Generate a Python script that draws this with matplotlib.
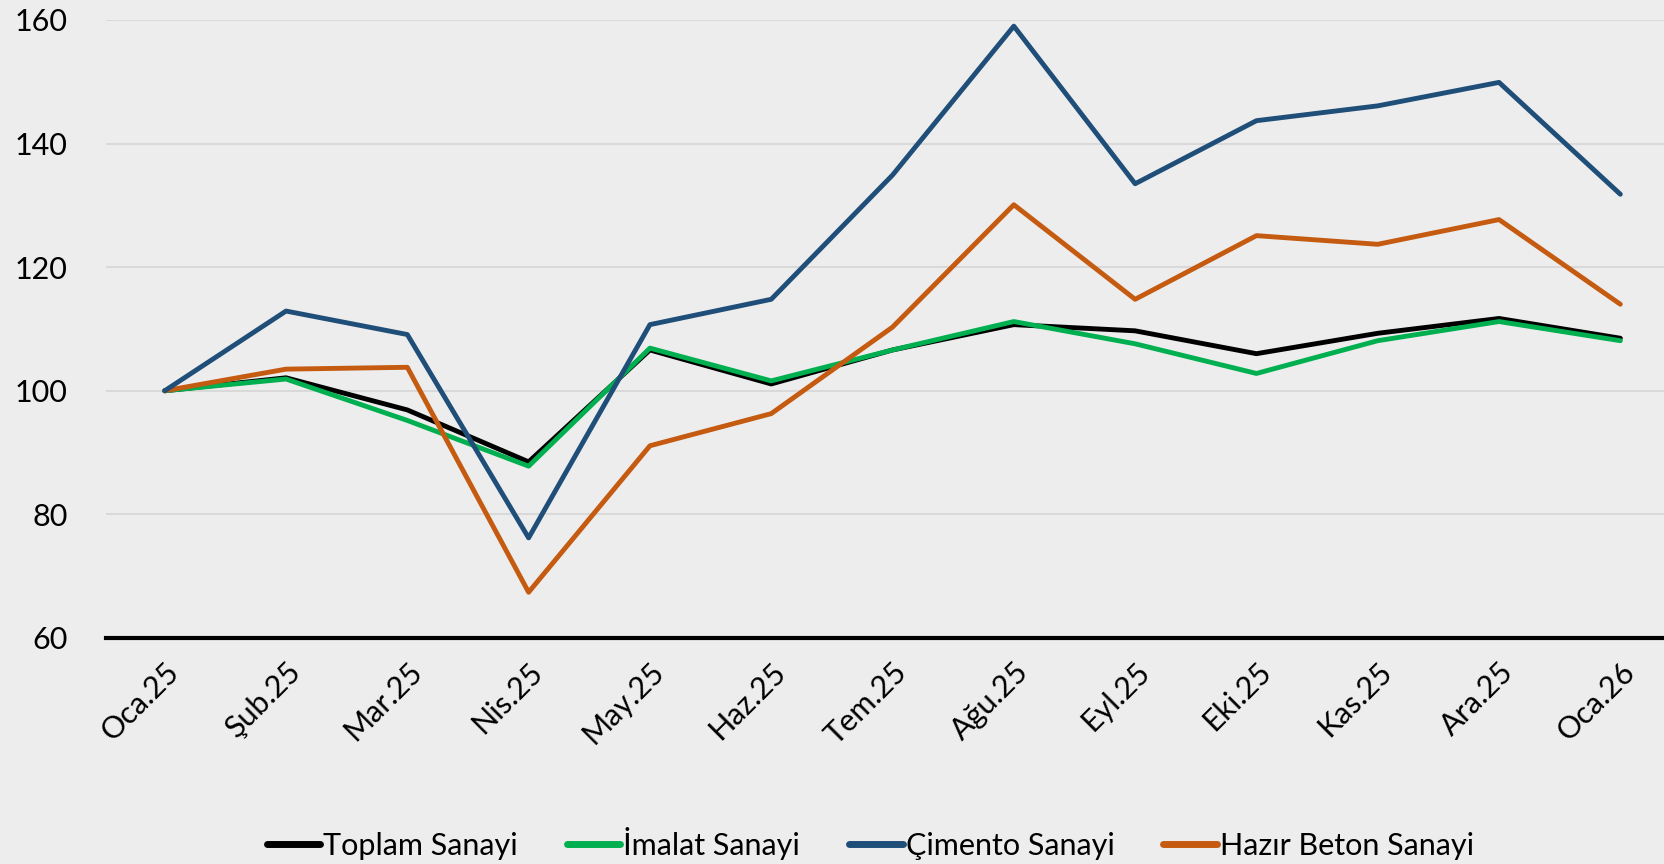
import matplotlib
matplotlib.use('Agg')
from matplotlib import pyplot as plt

months = ['Oca.25', 'Şub.25', 'Mar.25', 'Nis.25', 'May.25', 'Haz.25', 'Tem.25',
          'Ağu.25', 'Eyl.25', 'Eki.25', 'Kas.25', 'Ara.25', 'Oca.26']

toplam = [100, 102.1, 96.9, 88.5, 106.6, 101.1, 106.6, 110.7, 109.7, 106.0, 109.3, 111.7, 108.5]
imalat = [100, 101.9, 95.2, 87.8, 106.9, 101.6, 106.6, 111.2, 107.6, 102.8, 108.1, 111.2, 108.1]
cimento = [100, 112.9, 109.1, 76.2, 110.7, 114.8, 134.9, 159.0, 133.5, 143.7, 146.1, 149.9, 131.8]
hazir_beton = [100, 103.5, 103.8, 67.4, 91.1, 96.3, 110.3, 130.1, 114.8, 125.1, 123.7, 127.7, 114.0]

plt.rcParams['font.family'] = ['Lato', 'DejaVu Sans']

bg = '#EDEDED'
fig = plt.figure(figsize=(16.64, 8.64), dpi=100, facecolor=bg)
ax = fig.add_axes([0.064, 0.2616, 0.936, 0.7153], facecolor=bg)

x = range(len(months))
lw = 3.5
ax.plot(x, toplam, color='black', lw=lw, label='Toplam Sanayi', zorder=3, solid_capstyle='round')
ax.plot(x, imalat, color='#00B050', lw=lw, label='İmalat Sanayi', zorder=4, solid_capstyle='round')
ax.plot(x, cimento, color='#1F4E79', lw=lw, label='Çimento Sanayi', zorder=6, solid_capstyle='round')
ax.plot(x, hazir_beton, color='#C55A11', lw=lw, label='Hazır Beton Sanayi', zorder=5, solid_capstyle='round')

ax.set_ylim(60, 160)
ax.set_xlim(-0.48, 12.36)
ax.set_yticks([60, 80, 100, 120, 140, 160])
ax.set_xticks(list(x))
ax.set_xticklabels(months, rotation=45, ha='right', rotation_mode='anchor', fontsize=22)
ax.tick_params(axis='y', labelsize=22, length=0, pad=28)
ax.tick_params(axis='x', length=0, pad=14)
ax.grid(axis='y', color='#D9D9D9', lw=1.5)
for s in ['top', 'right', 'left']:
    ax.spines[s].set_visible(False)
ax.spines['bottom'].set_color('black')
ax.spines['bottom'].set_linewidth(3)
ax.spines['bottom'].set_zorder(7)

leg = fig.legend(loc='center', bbox_to_anchor=(0.523, 0.024), ncol=4, frameon=False,
                 fontsize=22, handlelength=1.75, handletextpad=0.1, columnspacing=1.6)
for line in leg.get_lines():
    line.set_linewidth(5)

fig.savefig('out.png', dpi=100, facecolor=bg)
